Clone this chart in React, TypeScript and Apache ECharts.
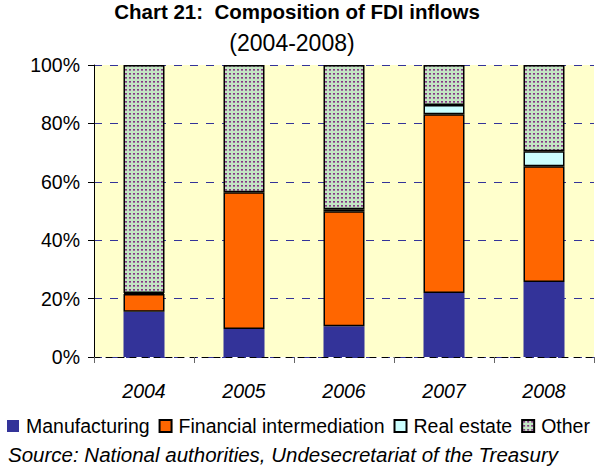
import React, { useEffect, useRef } from "react";
import * as echarts from "echarts";

const years = ["2004", "2005", "2006", "2007", "2008"];
const manufacturing = [15.5, 9.6, 10.5, 21.9, 25.7];
const financial = [6.1, 46.8, 39.4, 61.2, 39.6];
const realEstate = [0.3, null, 0.7, 3.2, 5.2];
const other = [78.1, 43.6, 49.4, 13.7, 29.5];
const yTicks = [0, 20, 40, 60, 80, 100];

function makePattern(): HTMLCanvasElement {
  const c = document.createElement("canvas");
  c.width = 4;
  c.height = 4;
  const ctx = c.getContext("2d")!;
  ctx.fillStyle = "#C4E6C4";
  ctx.fillRect(0, 0, 4, 4);
  ctx.fillStyle = "#803C80";
  ctx.fillRect(1, 1, 2, 1);
  ctx.fillStyle = "#A070A0";
  ctx.fillRect(1, 2, 2, 1);
  return c;
}

export default function App() {
  const ref = useRef<HTMLDivElement>(null);
  useEffect(() => {
    const chart = echarts.init(ref.current!, undefined, { renderer: "svg" });
    const font = "'Liberation Sans', Arial, sans-serif";
    const pattern = { image: makePattern(), repeat: "repeat" as const };
    const border = { borderColor: "#000", borderWidth: 1.5 };
    chart.setOption({
      animation: false,
      textStyle: { fontFamily: font },
      title: [
        {
          text: "Chart 21:  Composition of FDI inflows",
          left: 297,
          top: 1,
          padding: 0,
          textAlign: "center",
          textStyle: { fontSize: 20.5, fontWeight: "bold", color: "#000", fontFamily: font },
        },
        {
          text: "(2004-2008)",
          left: 292,
          top: 31,
          padding: 0,
          textAlign: "center",
          textStyle: { fontSize: 23, fontWeight: "normal", color: "#000", fontFamily: font },
        },
        {
          text: "Source: National authorities, Undesecretariat of the Treasury",
          left: 8,
          top: 444,
          padding: 0,
          textStyle: { fontSize: 20.5, fontStyle: "italic", fontWeight: "normal", color: "#000", fontFamily: font },
        },
      ],
      legend: {
        left: 7,
        top: 416,
        width: 800,
        padding: 0,
        itemWidth: 12,
        itemHeight: 12,
        itemGap: 9,
        icon: "rect",
        textStyle: { fontSize: 19.5, color: "#000", fontFamily: font, padding: [0, 0, 0, 2] },
        data: ["Manufacturing", "Financial intermediation", "Real estate", "Other"],
      },
      grid: {
        left: 94,
        right: 1,
        top: 65,
        bottom: 109,
        show: true,
        backgroundColor: "#FFFFCC",
        borderWidth: 0,
      },
      xAxis: {
        type: "category",
        data: years,
        axisLine: { show: true, lineStyle: { color: "#000", type: [6, 6], width: 1 } },
        axisTick: { show: true, length: 6, lineStyle: { color: "#666" } },
        axisLabel: { fontSize: 19.5, fontStyle: "italic", color: "#000", margin: 24, fontFamily: font },
      },
      yAxis: {
        type: "value",
        min: 0,
        max: 100,
        interval: 20,
        axisLine: { show: true, lineStyle: { color: "#000", width: 1 } },
        axisTick: { show: true, length: 6, lineStyle: { color: "#000" } },
        axisLabel: {
          fontSize: 19.5,
          color: "#000",
          margin: 14,
          fontFamily: font,
          formatter: (v: number) => (yTicks.includes(v) ? v + "%" : ""),
        },
        splitLine: { show: true, lineStyle: { color: "#333399", type: [8, 8], width: 1 } },
      },
      series: [
        {
          name: "Manufacturing",
          type: "bar",
          stack: "s",
          barWidth: "41%",
          data: manufacturing,
          itemStyle: { color: "#333399" },
        },
        {
          name: "Financial intermediation",
          type: "bar",
          stack: "s",
          data: financial,
          itemStyle: { color: "#FF6600", ...border },
        },
        {
          name: "Real estate",
          type: "bar",
          stack: "s",
          data: realEstate,
          itemStyle: { color: "#CCFFFF", ...border },
        },
        {
          name: "Other",
          type: "bar",
          stack: "s",
          data: other,
          itemStyle: { color: pattern, ...border },
        },
      ],
    });
    return () => chart.dispose();
  }, []);
  return <div ref={ref} style={{ width: 595, height: 466, position: "absolute", left: 0, top: 0 }} />;
}
